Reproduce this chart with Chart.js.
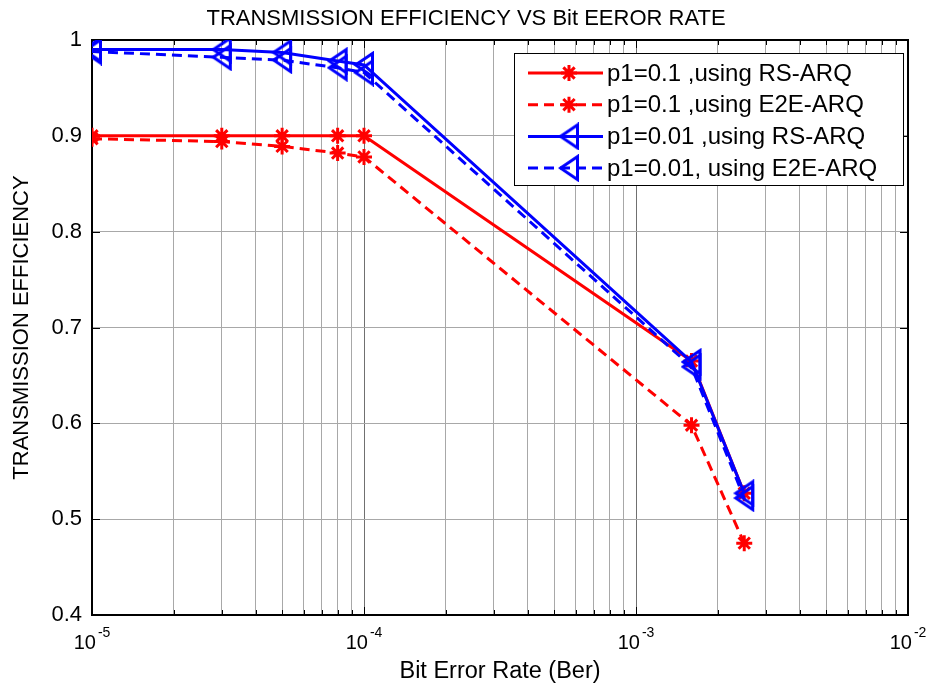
<!DOCTYPE html>
<html>
<head>
<meta charset="utf-8">
<script src="https://cdn.jsdelivr.net/npm/chart.js@4.4.1/dist/chart.umd.min.js"></script>
<style>
  html, body { margin: 0; padding: 0; background: #fff; }
  #wrap { width: 936px; height: 686px; }
</style>
</head>
<body>
<div id="wrap"><canvas id="effChart"></canvas></div>
<script>
// data
const ber = [1e-5, 3e-5, 5e-5, 8e-5, 1e-4, 1.6e-3, 2.5e-3];
const rsArqP01 = [0.900, 0.900, 0.900, 0.900, 0.900, 0.665, 0.527];
const e2eArqP01 = [0.897, 0.894, 0.889, 0.882, 0.878, 0.598, 0.475];
const rsArqP001 = [0.990, 0.990, 0.987, 0.978, 0.974, 0.664, 0.527];
const e2eArqP001 = [0.988, 0.982, 0.979, 0.971, 0.966, 0.659, 0.522];

const chartTitle = 'TRANSMISSION EFFICIENCY VS Bit EEROR RATE';
const seriesLabels = [
    'p1=0.1 ,using RS-ARQ',
    'p1=0.1 ,using E2E-ARQ',
    'p1=0.01 ,using RS-ARQ',
    'p1=0.01, using E2E-ARQ'
];
const xExponents = [-5, -4, -3, -2];   // x tick labels 10^-5 .. 10^-2
const yMin = 0.4, yMax = 1, yStep = 0.1;

const FONT = "'Liberation Sans', Arial, sans-serif";
Chart.defaults.color = '#000';
Chart.defaults.font.family = FONT;

function pairs(ys) {
    return ber.map((x, i) => ({ x: x, y: ys[i] }));
}

function isDecade(v) {
    const l = Math.log10(v);
    return Math.abs(l - Math.round(l)) < 1e-9;
}

// MATLAB '<' marker: hollow left-pointing triangle, taller than wide
function leftTriangle(color) {
    const c = document.createElement('canvas');
    c.width = 22;
    c.height = 28;
    const g = c.getContext('2d');
    g.strokeStyle = color;
    g.lineWidth = 3;
    g.lineJoin = 'miter';
    g.beginPath();
    g.moveTo(2.5, 14);
    g.lineTo(19.5, 2.5);
    g.lineTo(19.5, 25.5);
    g.closePath();
    g.stroke();
    return c;
}

function drawMarker(ctx, ds, x, y) {
    if (ds.pointStyle instanceof HTMLCanvasElement) {
        const img = ds.pointStyle;
        ctx.drawImage(img, x - img.width / 2, y - img.height / 2);
        return;
    }
    ctx.save();
    ctx.strokeStyle = ds.pointBorderColor;
    ctx.lineWidth = ds.pointBorderWidth;
    const r = ds.pointRadius;
    ctx.beginPath();
    for (let k = 0; k < 4; k++) {
        const a = k * Math.PI / 4;
        ctx.moveTo(x - Math.cos(a) * r, y - Math.sin(a) * r);
        ctx.lineTo(x + Math.cos(a) * r, y + Math.sin(a) * r);
    }
    ctx.stroke();
    ctx.restore();
}

const matlabAxes = {
    id: 'matlabAxes',
    beforeDatasetsDraw(chart) {
        const { ctx, chartArea: a, scales } = chart;
        ctx.save();
        ctx.strokeStyle = '#000';
        ctx.lineWidth = 1;
        // inner tick marks on all four sides
        ctx.beginPath();
        scales.x.ticks.forEach(t => {
            const px = Math.round(scales.x.getPixelForValue(t.value)) + 0.5;
            const len = isDecade(t.value) ? 8 : 5;
            ctx.moveTo(px, a.bottom); ctx.lineTo(px, a.bottom - len);
            ctx.moveTo(px, a.top); ctx.lineTo(px, a.top + len);
        });
        scales.y.ticks.forEach(t => {
            const py = Math.round(scales.y.getPixelForValue(t.value)) + 0.5;
            ctx.moveTo(a.left, py); ctx.lineTo(a.left + 8, py);
            ctx.moveTo(a.right, py); ctx.lineTo(a.right - 8, py);
        });
        ctx.stroke();
        // axes box
        ctx.lineWidth = 2;
        ctx.strokeRect(Math.round(a.left), Math.round(a.top), Math.round(a.right - a.left), Math.round(a.bottom - a.top));
        ctx.restore();
    },
    afterDraw(chart) {
        const { ctx, chartArea: a, scales } = chart;
        ctx.save();
        // title (centred on the figure, not the plot)
        ctx.fillStyle = '#000';
        ctx.font = '22px ' + FONT;
        ctx.textAlign = 'center';
        ctx.textBaseline = 'middle';
        ctx.fillText(chartTitle, chart.width / 2 - 2, a.top - 21);

        // x tick labels: 10 with a raised exponent
        ctx.textBaseline = 'alphabetic';
        ctx.textAlign = 'left';
        xExponents.forEach(e => {
            const px = scales.x.getPixelForValue(Math.pow(10, e));
            ctx.font = '20px ' + FONT;
            const wBase = ctx.measureText('10').width;
            ctx.font = '14px ' + FONT;
            const wExp = ctx.measureText(String(e)).width;
            const x0 = px - (wBase + wExp + 2) / 2;
            ctx.font = '20px ' + FONT;
            ctx.fillText('10', x0, a.bottom + 34);
            ctx.font = '14px ' + FONT;
            ctx.fillText(String(e), x0 + wBase + 2, a.bottom + 22);
        });

        // legend box
        const box = { left: a.right - 394, top: a.top + 13, width: 389, height: 132 };
        ctx.fillStyle = '#fff';
        ctx.fillRect(box.left, box.top, box.width, box.height);
        ctx.strokeStyle = '#000';
        ctx.lineWidth = 1;
        ctx.strokeRect(box.left + 0.5, box.top + 0.5, box.width, box.height);
        chart.data.datasets.forEach((ds, i) => {
            const y = box.top + 20 + i * 31.7;
            ctx.save();
            ctx.strokeStyle = ds.borderColor;
            ctx.lineWidth = ds.borderWidth;
            ctx.setLineDash(ds.borderDash || []);
            ctx.beginPath();
            ctx.moveTo(box.left + 14, y);
            ctx.lineTo(box.left + 89, y);
            ctx.stroke();
            ctx.restore();
            drawMarker(ctx, ds, box.left + 55, y);
            ctx.fillStyle = '#000';
            ctx.font = '24px ' + FONT;
            ctx.textBaseline = 'middle';
            ctx.fillText(seriesLabels[i], box.left + 93, y + 1);
        });
        ctx.restore();
    }
};

const red = '#ff0000';
const blue = '#0000ff';

function series(label, ys, color, dashed, marker, order) {
    const star = marker === 'star';
    return {
        label: label,
        data: pairs(ys),
        borderColor: color,
        borderWidth: 3,
        borderDash: dashed ? [10, 6] : [],
        pointStyle: star ? 'star' : leftTriangle(color),
        pointRadius: star ? 8 : 12,
        pointBorderWidth: 3,
        pointBorderColor: color,
        pointBackgroundColor: color,
        tension: 0,
        fill: false,
        order: order
    };
}

new Chart(document.getElementById('effChart'), {
    type: 'line',
    data: {
        datasets: [
            series(seriesLabels[0], rsArqP01, red, false, 'star', 4),
            series(seriesLabels[1], e2eArqP01, red, true, 'star', 3),
            series(seriesLabels[2], rsArqP001, blue, false, 'triangle', 2),
            series(seriesLabels[3], e2eArqP001, blue, true, 'triangle', 1)
        ]
    },
    options: {
        responsive: true,
        maintainAspectRatio: false,
        animation: false,
        layout: { padding: { left: 0, right: 28, top: 40, bottom: 0 } },
        plugins: {
            legend: { display: false },
            tooltip: { enabled: false },
            title: { display: false }
        },
        scales: {
            x: {
                type: 'logarithmic',
                min: Math.pow(10, xExponents[0]),
                max: Math.pow(10, xExponents[xExponents.length - 1]),
                afterBuildTicks: (scale) => {
                    const t = [];
                    xExponents.forEach((e, i) => {
                        if (i < xExponents.length - 1) {
                            for (let m = 1; m < 10; m++) t.push({ value: m * Math.pow(10, e) });
                        } else {
                            t.push({ value: Math.pow(10, e) });
                        }
                    });
                    scale.ticks = t;
                },
                afterFit: (scale) => { scale.height = 71; },
                ticks: { display: false },
                grid: {
                    drawTicks: false,
                    lineWidth: 1,
                    color: (c) => (c.tick && isDecade(c.tick.value)) ? '#707070' : '#a8a8a8'
                },
                border: { display: false },
                title: {
                    display: true,
                    text: 'Bit Error Rate (Ber)',
                    color: '#000',
                    font: { size: 23.5, family: FONT },
                    padding: { top: 0, bottom: 0 }
                }
            },
            y: {
                min: yMin,
                max: yMax,
                afterFit: (scale) => { scale.width = 92; },
                ticks: {
                    stepSize: yStep,
                    padding: 10,
                    color: '#000',
                    font: { size: 22, family: FONT },
                    callback: (v) => (v >= 0.999 ? '1' : Number(v).toFixed(1))
                },
                grid: { drawTicks: false, color: '#a8a8a8', lineWidth: 1 },
                border: { display: false },
                title: {
                    display: true,
                    text: 'TRANSMISSION EFFICIENCY',
                    color: '#000',
                    font: { size: 22, family: FONT },
                    padding: { top: 9, bottom: 0 }
                }
            }
        }
    },
    plugins: [matlabAxes]
});
</script>
</body>
</html>
